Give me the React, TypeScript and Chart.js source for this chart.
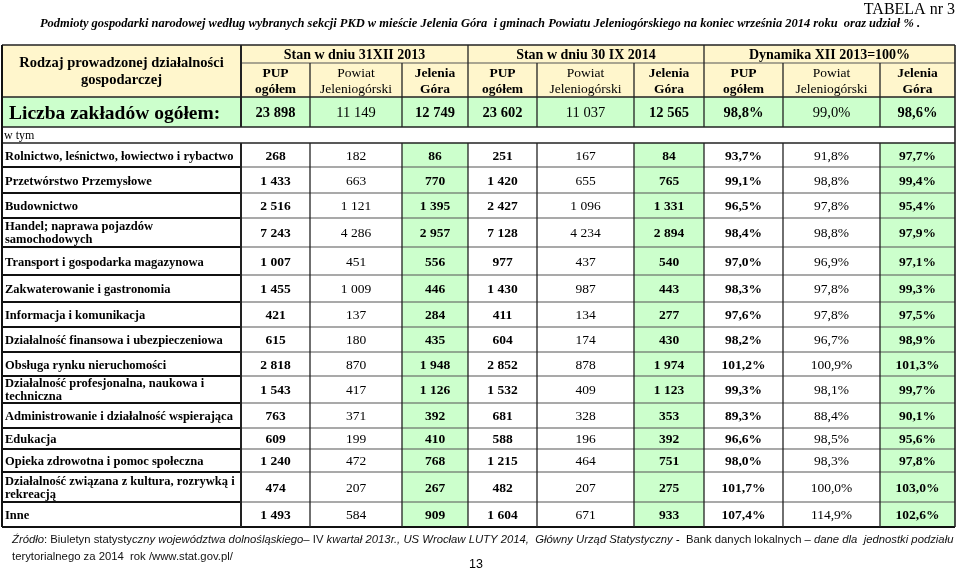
import React, { useEffect, useRef } from 'react';
import { Chart, registerables } from 'chart.js';

Chart.register(...registerables);

const SERIF = '"Liberation Serif", "Times New Roman", serif';
const SANS = '"Liberation Sans", Arial, sans-serif';

// ---------- DATA ----------
const titleRight = 'TABELA nr 3';
const subtitle =
  'Podmioty gospodarki narodowej według wybranych sekcji PKD w mieście Jelenia Góra  i gminach Powiatu Jeleniogórskiego na koniec września 2014 roku  oraz udział % .';

const groupHeaders = ['Stan w dniu 31XII 2013', 'Stan w dniu 30 IX 2014', 'Dynamika XII 2013=100%'];
const subHeaders = [
  ['PUP', 'ogółem'],
  ['Powiat', 'Jeleniogórski'],
  ['Jelenia', 'Góra'],
];

const categories = [
  'Rolnictwo, leśnictwo, łowiectwo i rybactwo',
  'Przetwórstwo Przemysłowe',
  'Budownictwo',
  'Handel; naprawa pojazdów\nsamochodowych',
  'Transport i gospodarka magazynowa',
  'Zakwaterowanie i gastronomia',
  'Informacja i komunikacja',
  'Działalność finansowa i ubezpieczeniowa',
  'Obsługa rynku nieruchomości',
  'Działalność profesjonalna, naukowa i\ntechniczna',
  'Administrowanie i działalność wspierająca',
  'Edukacja',
  'Opieka zdrowotna i pomoc społeczna',
  'Działalność związana z kultura, rozrywką i\nrekreacją',
  'Inne',
];

const totalCounts = [23898, 11149, 12749, 23602, 11037, 12565];
const totalDynamics = [98.8, 99.0, 98.6];

const pup2013 = [268, 1433, 2516, 7243, 1007, 1455, 421, 615, 2818, 1543, 763, 609, 1240, 474, 1493];
const powiat2013 = [182, 663, 1121, 4286, 451, 1009, 137, 180, 870, 417, 371, 199, 472, 207, 584];
const jg2013 = [86, 770, 1395, 2957, 556, 446, 284, 435, 1948, 1126, 392, 410, 768, 267, 909];
const pup2014 = [251, 1420, 2427, 7128, 977, 1430, 411, 604, 2852, 1532, 681, 588, 1215, 482, 1604];
const powiat2014 = [167, 655, 1096, 4234, 437, 987, 134, 174, 878, 409, 328, 196, 464, 207, 671];
const jg2014 = [84, 765, 1331, 2894, 540, 443, 277, 430, 1974, 1123, 353, 392, 751, 275, 933];
const dynPup = [93.7, 99.1, 96.5, 98.4, 97.0, 98.3, 97.6, 98.2, 101.2, 99.3, 89.3, 96.6, 98.0, 101.7, 107.4];
const dynPowiat = [91.8, 98.8, 97.8, 98.8, 96.9, 97.8, 97.8, 96.7, 100.9, 98.1, 88.4, 98.5, 98.3, 100.0, 114.9];
const dynJG = [97.7, 99.4, 95.4, 97.9, 97.1, 99.3, 97.5, 98.9, 101.3, 99.7, 90.1, 95.6, 97.8, 103.0, 102.6];

const sourceSegments: [string, boolean][] = [
  ['Źródło', true],
  [': Biuletyn statysty', false],
  ['czny województwa dolnośląskiego', true],
  ['– IV ', false],
  ['kwartał 2013r., US Wrocław LUTY 2014,  Główny Urząd Statystyczny - ', true],
  [' Bank danych lokalnych – ', false],
  ['dane dla  jednostki podziału', true],
];
const sourceLine2 = 'terytorialnego za 2014  rok /www.stat.gov.pl/';
const pageNumber = '13';

// ---------- LAYOUT ----------
const colX = [2, 241, 310, 402, 468, 537, 634, 704, 783, 880, 955];
const H0 = 45;
const H1 = 63;
const H2 = 97;
const H3 = 127;
const H4 = 143;
const rowY = [143, 167, 193, 218, 247, 275, 302, 327, 352, 376, 403, 428, 449, 472, 502, 527];

const YELLOW = '#fff6cc';
const GREEN = '#ccffcc';

const fmtInt = (n: number) => String(n).replace(/\B(?=(\d{3})+(?!\d))/g, ' ');
const fmtPct = (v: number) => v.toFixed(1).replace('.', ',') + '%';

const columnValues = [pup2013, powiat2013, jg2013, pup2014, powiat2014, jg2014, dynPup, dynPowiat, dynJG];
const columnTotals = [...totalCounts, ...totalDynamics];

const sizeOf = (font: string) => {
  const m = font.match(/([\d.]+)px/);
  return m ? parseFloat(m[1]) : 12;
};

const tablePlugin = {
  id: 'tableDraw',
  beforeDatasetsDraw(chart: any) {
    const ctx: CanvasRenderingContext2D = chart.ctx;
    const xs = chart.scales.x;
    const ys = chart.scales.y;
    const px = (v: number) => xs.getPixelForValue(v);
    const py = (v: number) => ys.getPixelForValue(v);
    ctx.save();
    const rect = (x0: number, y0: number, x1: number, y1: number, c: string) => {
      ctx.fillStyle = c;
      ctx.fillRect(px(x0), py(y0), px(x1) - px(x0), py(y1) - py(y0));
    };
    const last = rowY[rowY.length - 1];
    rect(colX[0], H0, colX[10], H2, YELLOW);
    rect(colX[0], H2, colX[10], H3, GREEN);
    [3, 6, 9].forEach((c) => rect(colX[c], H4, colX[c + 1], last, GREEN));

    const line = (x0: number, y0: number, x1: number, y1: number, w: number, c: string) => {
      ctx.beginPath();
      ctx.lineWidth = w;
      ctx.strokeStyle = c;
      ctx.moveTo(px(x0), py(y0));
      ctx.lineTo(px(x1), py(y1));
      ctx.stroke();
    };
    const DARK = '#222';
    const GRAY = '#555';
    // horizontal lines
    line(colX[1], H1, colX[10], H1, 1.2, GRAY);
    [H0, H2, H3, H4].forEach((yy) => line(colX[0], yy, colX[10], yy, 1.6, DARK));
    rowY.forEach((yy, i) => {
      if (i === 0 || i === rowY.length - 1) return;
      line(colX[0], yy, colX[1], yy, 2, '#111');
      line(colX[1], yy, colX[10], yy, 1.2, GRAY);
    });
    line(colX[0], last, colX[10], last, 2, '#111');
    // vertical lines
    line(colX[0], H0, colX[0], last, 2, '#111');
    line(colX[10], H0, colX[10], last, 1.6, DARK);
    for (let c = 1; c < 10; c++) {
      const top = c === 1 || c === 4 || c === 7 ? H0 : H1;
      const w = c === 1 ? 2 : 1.3;
      line(colX[c], top, colX[c], H3, w, DARK);
      line(colX[c], H4, colX[c], last, w, DARK);
    }

    // texts (y = visual centre of the text line)
    const txt = (s: string, x: number, y: number, font: string, align: CanvasTextAlign, maxW?: number, color = '#000') => {
      ctx.font = font;
      ctx.fillStyle = color;
      ctx.textAlign = align;
      ctx.textBaseline = 'alphabetic';
      const by = py(y) + sizeOf(font) * 0.33;
      if (maxW) ctx.fillText(s, px(x), by, maxW);
      else ctx.fillText(s, px(x), by);
    };
    txt(titleRight, 955, 9, `16px ${SERIF}`, 'right');
    txt(subtitle, 480, 23, `italic bold 12.5px ${SERIF}`, 'center', 880);

    const lcx = (colX[0] + colX[1]) / 2;
    txt('Rodzaj prowadzonej działalności', lcx, 62, `bold 14.5px ${SERIF}`, 'center', 215);
    txt('gospodarczej', lcx, 79, `bold 14.5px ${SERIF}`, 'center');
    for (let g = 0; g < 3; g++) {
      const gx = (colX[1 + g * 3] + colX[4 + g * 3]) / 2;
      txt(groupHeaders[g], gx, 54, `bold 14px ${SERIF}`, 'center', colX[4 + g * 3] - colX[1 + g * 3] - 8);
      for (let s = 0; s < 3; s++) {
        const c = g * 3 + s;
        const cx = (colX[c + 1] + colX[c + 2]) / 2;
        const f = s === 1 ? `13.5px ${SERIF}` : `bold 13.5px ${SERIF}`;
        txt(subHeaders[s][0], cx, 72.5, f, 'center');
        txt(subHeaders[s][1], cx, 89, f, 'center', colX[c + 2] - colX[c + 1] - 4);
      }
    }
    txt('Liczba zakładów ogółem:', 9, 112.5, `bold 19.5px ${SERIF}`, 'left', 228);
    txt('w tym', 4, 135, `12px ${SERIF}`, 'left');

    categories.forEach((cat, i) => {
      const cy = (rowY[i] + rowY[i + 1]) / 2;
      const parts = cat.split('\n');
      const f = `bold 12.5px ${SERIF}`;
      if (parts.length === 1) {
        txt(parts[0], 5, cy + 0.5, f, 'left', 231);
      } else {
        txt(parts[0], 5, cy - 6.5, f, 'left', 231);
        txt(parts[1], 5, cy + 6.5, f, 'left', 231);
      }
    });

    // source
    let size = 12;
    const measure = (sz: number) =>
      sourceSegments.reduce((acc, [s, it]) => {
        ctx.font = `${it ? 'italic ' : ''}${sz}px ${SANS}`;
        return acc + ctx.measureText(s).width;
      }, 0);
    size = (size * 943) / measure(size);
    let sx = px(12);
    ctx.textBaseline = 'alphabetic';
    ctx.textAlign = 'left';
    ctx.fillStyle = '#111';
    sourceSegments.forEach(([s, it]) => {
      ctx.font = `${it ? 'italic ' : ''}${size}px ${SANS}`;
      ctx.fillText(s, sx, py(539) + size * 0.33);
      sx += ctx.measureText(s).width;
    });
    txt(sourceLine2, 12, 556, `${size}px ${SANS}`, 'left', undefined, '#111');
    txt(pageNumber, 476, 564, `12.5px ${SANS}`, 'center');
    ctx.restore();
  },
  afterDatasetsDraw(chart: any) {
    const ctx: CanvasRenderingContext2D = chart.ctx;
    ctx.save();
    ctx.textAlign = 'center';
    ctx.textBaseline = 'alphabetic';
    ctx.fillStyle = '#000';
    chart.data.datasets.forEach((ds: any, di: number) => {
      const meta = chart.getDatasetMeta(di);
      const isPct = di >= 6;
      const bold = di % 3 !== 1;
      meta.data.forEach((el: any, i: number) => {
        const v = ds.data[i].v as number;
        const size = i === 0 ? 14.5 : 13.5;
        ctx.font = `${bold ? 'bold ' : ''}${size}px ${SERIF}`;
        ctx.fillText(isPct ? fmtPct(v) : fmtInt(v), el.x, el.y + size * 0.33);
      });
    });
    ctx.restore();
  },
};

export default function App() {
  const ref = useRef<HTMLCanvasElement | null>(null);
  useEffect(() => {
    if (!ref.current) return;
    const datasets = columnValues.map((vals, c) => {
      const cx = (colX[c + 1] + colX[c + 2]) / 2;
      const pts = [{ x: cx, y: (H2 + H3) / 2 + 0.5, v: columnTotals[c] }];
      vals.forEach((v, i) => pts.push({ x: cx, y: (rowY[i] + rowY[i + 1]) / 2 + 0.5, v }));
      return { data: pts, pointRadius: 0, pointHoverRadius: 0, showLine: false };
    });
    const chart = new Chart(ref.current, {
      type: 'scatter',
      data: { datasets: datasets as any },
      options: {
        animation: false,
        responsive: false,
        events: [],
        layout: { padding: 0 },
        plugins: { legend: { display: false }, tooltip: { enabled: false }, title: { display: false } },
        scales: {
          x: { type: 'linear', min: 0, max: 960, display: false },
          y: { type: 'linear', min: 0, max: 570, reverse: true, display: false },
        },
      },
      plugins: [tablePlugin],
    });
    return () => chart.destroy();
  }, []);
  return (
    <div style={{ position: 'absolute', left: 0, top: 0, width: 960, height: 570, background: '#fff' }}>
      <canvas ref={ref} width={960} height={570} style={{ display: 'block' }} />
    </div>
  );
}
